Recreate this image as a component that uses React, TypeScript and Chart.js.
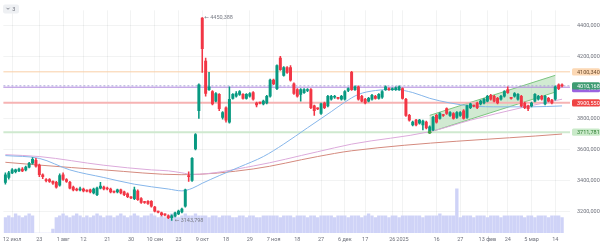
import React, { useEffect, useRef } from 'react';
import { Chart, registerables } from 'chart.js';

Chart.register(...registerables);

// ---- candle data (index = trading day) ----
const opens = [
  3389, 3420, 3450, 3457, 3463, 3475, 3469, 3487, 3512, 3530,
  3500, 3438, 3403, 3407, 3395, 3389, 3370, 3438, 3407, 3389,
  3358, 3341, 3340, 3346, 3334, 3340, 3321, 3309, 3352, 3358,
  3352, 3346, 3328, 3327, 3340, 3327, 3315, 3291, 3284, 3333,
  3284, 3261, 3266, 3266, 3229, 3199, 3192, 3181, 3173, 3161,
  3173, 3186, 3198, 3235, 3432, 3401, 3604, 3850, 4447, 4170,
  3986, 3973, 3912, 3955, 3807, 3869, 3777, 3930, 3943, 3955,
  3955, 3930, 3943, 3967, 3900, 3901, 3894, 3900, 3943, 4047,
  3992, 4189, 4078, 4127, 4127, 4023, 3986, 3955, 3967, 3980,
  3986, 3881, 3864, 3832, 3900, 3881, 3924, 3937, 3931, 3924,
  3924, 3980, 4097, 3986, 4004, 3943, 3924, 3912, 3924, 3943,
  3930, 3937, 3986, 3992, 3986, 3986, 3986, 3992, 3924, 3820,
  3758, 3789, 3770, 3758, 3777, 3721, 3727, 3820, 3801, 3821,
  3863, 3820, 3832, 3807, 3820, 3850, 3807, 3869, 3882, 3900,
  3894, 3900, 3912, 3949, 3943, 3930, 3924, 3943, 3986, 3931,
  3943, 3924, 3943, 3900, 3881, 3881, 3912, 3924, 3943, 3894,
  3930, 3918, 3924, 4017, 4017,
];
const highs = [
  3450, 3460, 3478, 3475, 3481, 3484, 3493, 3518, 3549, 3543,
  3506, 3444, 3413, 3413, 3398, 3395, 3444, 3450, 3413, 3395,
  3364, 3352, 3358, 3352, 3340, 3346, 3352, 3358, 3389, 3364,
  3358, 3352, 3333, 3346, 3346, 3333, 3321, 3297, 3358, 3340,
  3290, 3266, 3272, 3272, 3235, 3204, 3198, 3186, 3180, 3180,
  3198, 3210, 3223, 3346, 3457, 3549, 3703, 4023, 4450.388, 4189,
  4097, 3980, 3967, 3961, 3844, 3875, 4004, 3961, 3973, 3980,
  3961, 3961, 3967, 3973, 3906, 3906, 3918, 3949, 4053, 4053,
  4146, 4201, 4134, 4134, 4140, 4029, 3992, 3992, 3992, 3992,
  3992, 3887, 3869, 3900, 3906, 3949, 3949, 3949, 3937, 3949,
  3980, 3998, 4103, 4010, 4010, 3949, 3930, 3937, 3955, 3949,
  3961, 3980, 4010, 3998, 3998, 4004, 4010, 3998, 3930, 3826,
  3783, 3795, 3795, 3789, 3783, 3752, 3814, 3826, 3838, 3826,
  3869, 3844, 3838, 3844, 3844, 3857, 3887, 3900, 3887, 3906,
  3918, 3930, 3949, 3955, 3949, 3937, 3949, 3980, 4004, 3937,
  3967, 3961, 3949, 3906, 3887, 3906, 3961, 3949, 3949, 3949,
  3937, 3924, 4010, 4023, 4023,
];
const lows = [
  3377, 3410, 3444, 3450, 3457, 3457, 3463, 3481, 3506, 3487,
  3426, 3413, 3392, 3389, 3375, 3352, 3364, 3401, 3389, 3346,
  3333, 3333, 3333, 3327, 3327, 3321, 3315, 3303, 3346, 3340,
  3340, 3321, 3321, 3321, 3315, 3303, 3290, 3284, 3278, 3272,
  3253, 3253, 3247, 3229, 3198, 3192, 3173, 3173, 3155, 3143.798,
  3167, 3180, 3192, 3229, 3395, 3395, 3598, 3801, 4097, 3943,
  3980, 3887, 3906, 3850, 3795, 3777, 3770, 3924, 3937, 3949,
  3924, 3924, 3937, 3918, 3875, 3894, 3887, 3894, 3937, 4017,
  3986, 4109, 4072, 4090, 4041, 3955, 3937, 3912, 3961, 3973,
  3863, 3820, 3857, 3826, 3863, 3875, 3918, 3930, 3924, 3918,
  3918, 3973, 3980, 3980, 3918, 3906, 3894, 3906, 3918, 3924,
  3924, 3930, 3980, 3980, 3980, 3980, 3980, 3924, 3814, 3783,
  3752, 3752, 3764, 3727, 3733, 3711.781, 3721, 3770, 3795, 3814,
  3826, 3814, 3795, 3801, 3814, 3795, 3801, 3863, 3875, 3863,
  3887, 3894, 3906, 3918, 3906, 3894, 3918, 3937, 3961, 3924,
  3937, 3918, 3875, 3863, 3850, 3875, 3906, 3918, 3918, 3887,
  3906, 3894, 3918, 3986, 4004,
];
const closes = [
  3438, 3450, 3469, 3469, 3475, 3463, 3487, 3512, 3537, 3493,
  3438, 3426, 3400, 3395, 3383, 3358, 3432, 3407, 3395, 3352,
  3340, 3339, 3346, 3333, 3332, 3327, 3346, 3352, 3364, 3346,
  3346, 3327, 3326, 3340, 3321, 3309, 3297, 3289, 3340, 3278,
  3260, 3259, 3253, 3235, 3204, 3197, 3180, 3179, 3161, 3173,
  3192, 3204, 3216, 3340, 3426, 3543, 3697, 4017, 4250, 3961,
  4004, 3894, 3961, 3863, 3838, 3789, 3924, 3955, 3961, 3973,
  3930, 3955, 3961, 3924, 3887, 3899, 3912, 3943, 4047, 4023,
  4140, 4115, 4127, 4097, 4047, 3961, 3943, 3986, 3986, 3986,
  3869, 3850, 3862, 3894, 3869, 3943, 3943, 3943, 3929, 3943,
  3973, 3992, 3986, 4004, 3924, 3912, 3900, 3930, 3949, 3930,
  3955, 3973, 4004, 3986, 3992, 3998, 4004, 3930, 3820, 3789,
  3777, 3758, 3789, 3783, 3740, 3746, 3807, 3777, 3832, 3819,
  3832, 3838, 3801, 3838, 3838, 3801, 3881, 3894, 3880, 3869,
  3912, 3924, 3943, 3924, 3912, 3900, 3943, 3973, 3967, 3929,
  3961, 3955, 3881, 3869, 3863, 3900, 3955, 3943, 3924, 3943,
  3912, 3900, 4004, 3992, 4010.168,
];
const volumes = [
  8, 9, 8, 10, 9, 8, 9, 10, 9, 0,
  0, 0, 0, 0, 2, 8, 9, 10, 9, 8,
  9, 10, 9, 8, 9, 8, 9, 10, 9, 8,
  9, 9, 8, 9, 10, 9, 8, 9, 10, 9,
  8, 9, 9, 10, 9, 8, 9, 8, 9, 10,
  9, 8, 9, 10, 9, 9, 10, 9, 9, 9,
  8, 9, 9, 8, 9, 9, 9, 8, 8, 9,
  9, 8, 9, 9, 8, 8, 9, 9, 9, 9,
  9, 8, 9, 9, 9, 8, 9, 9, 9, 8,
  9, 9, 8, 9, 9, 9, 9, 8, 9, 9,
  9, 8, 9, 9, 9, 8, 9, 10, 9, 8,
  9, 9, 9, 8, 9, 9, 8, 9, 9, 9,
  9, 9, 9, 8, 9, 9, 9, 9, 10, 9,
  9, 9, 9, 23, 8, 9, 9, 9, 8, 9,
  9, 9, 8, 9, 9, 9, 8, 9, 9, 9,
  9, 9, 9, 8, 9, 9, 8, 9, 9, 9,
  8, 9, 9, 9, 8,
];

const maFastIdx = [0, 10, 19, 29, 38, 48, 52, 55, 58, 63, 69, 76, 82, 89, 96, 100, 104, 109, 115, 120, 125, 131, 137, 146, 155, 164];
const maFastVal = [3561, 3543, 3469, 3420, 3377, 3346, 3334, 3350, 3383, 3432, 3488, 3555, 3635, 3740, 3844, 3905, 3955, 3980, 3986, 3967, 3930, 3900, 3881, 3875, 3875, 3881];
const maMidIdx = [0, 10, 29, 43, 48, 52, 55, 73, 92, 102, 125, 137, 152, 164];
const maMidVal = [3567, 3555, 3499, 3469, 3463, 3450, 3440, 3494, 3586, 3635, 3715, 3789, 3869, 3924];
const maSlowIdx = [0, 10, 29, 52, 73, 92, 102, 164];
const maSlowVal = [3518, 3500, 3469, 3438, 3475, 3555, 3592, 3700];

// ---- axes ----
const tickIdx = [2, 10, 17, 23, 30, 37, 44, 51, 58, 65, 72, 79, 86, 93, 100, 106, 114, 117, 127, 134, 142, 148, 155, 162];
const tickLabels = ['12 июл', '23', '1 авг', '12', '21', '30', '10 сен', '23', '9 окт', '18', '29', '7 ноя', '18', '27', '6 дек', '17', '26', '2025', '16', '27', '13 фев', '24', '5 мар', '14'];
const priceTicks = [3200, 3400, 3600, 3800, 4000, 4200, 4400];

// ---- drawings ----
const levelResistance = 4100.34;
const levelPurple = 4001.5;
const lastPrice = 4010.168;
const levelSupport = 3900.55;
const levelLow = 3711.781;
const channelIdx = [125, 162];
const channelLow = [3711.781, 3970];
const channelHigh = [3820, 4078];
const highIdx = 58;
const highVal = 4450.388;
const lowIdx = 49;
const lowVal = 3143.798;

const UP = '#089981';
const DOWN = '#f23645';
const FONT = 'Roboto, "DejaVu Sans", sans-serif';

function fmt(v: number): string {
  return v.toFixed(3).replace('.', ',');
}

export default function App() {
  const ref = useRef<HTMLCanvasElement>(null);

  useEffect(() => {
    const canvas = ref.current;
    if (!canvas) return;
    const idx = closes.map((_, i) => i);
    const colors = idx.map((i) => (closes[i] >= opens[i] ? UP : DOWN));
    const bodies = idx.map((i) => ({ x: i, y: [opens[i], closes[i]] }));
    const wicks = idx.map((i) => ({ x: i, y: [lows[i], highs[i]] }));
    const vols = idx.map((i) => ({ x: i, y: volumes[i] }));
    const pts = (xs: number[], ys: number[]) => xs.map((x, k) => ({ x, y: ys[k] }));

    const overlay = {
      id: 'overlay',
      beforeDatasetsDraw(chart: any) {
        const ctx = chart.ctx;
        const xs = chart.scales.x;
        const ys = chart.scales.y;
        const a = chart.chartArea;
        ctx.save();
        // channel
        const x0 = xs.getPixelForValue(channelIdx[0]);
        const x1 = xs.getPixelForValue(channelIdx[1]);
        ctx.beginPath();
        ctx.moveTo(x0, ys.getPixelForValue(channelLow[0]));
        ctx.lineTo(x1, ys.getPixelForValue(channelLow[1]));
        ctx.lineTo(x1, ys.getPixelForValue(channelHigh[1]));
        ctx.lineTo(x0, ys.getPixelForValue(channelHigh[0]));
        ctx.closePath();
        ctx.fillStyle = 'rgba(102,187,106,0.3)';
        ctx.fill();
        ctx.strokeStyle = '#7cc47f';
        ctx.lineWidth = 1;
        ctx.beginPath();
        ctx.moveTo(x0, ys.getPixelForValue(channelLow[0]));
        ctx.lineTo(x1, ys.getPixelForValue(channelLow[1]));
        ctx.moveTo(x0, ys.getPixelForValue(channelHigh[0]));
        ctx.lineTo(x1, ys.getPixelForValue(channelHigh[1]));
        ctx.stroke();
        // level lines
        const hline = (v: number, color: string, w: number, dash: number[]) => {
          const y = ys.getPixelForValue(v);
          ctx.beginPath();
          ctx.setLineDash(dash);
          ctx.strokeStyle = color;
          ctx.lineWidth = w;
          ctx.moveTo(a.left, y);
          ctx.lineTo(a.right, y);
          ctx.stroke();
          ctx.setLineDash([]);
        };
        hline(levelResistance, '#f9cfa6', 1, []);
        hline(levelLow, '#cfe9cf', 2, []);
        hline(levelSupport, '#f6b3b3', 2, []);
        hline(lastPrice, '#a9a6d6', 1, [2, 2]);
        hline(levelPurple, '#b48be3', 1, []);
        ctx.restore();
      },
      afterDraw(chart: any) {
        const ctx = chart.ctx;
        const xs = chart.scales.x;
        const ys = chart.scales.y;
        const a = chart.chartArea;
        ctx.save();
        // anchor dot of channel
        ctx.fillStyle = '#43a047';
        ctx.beginPath();
        ctx.arc(xs.getPixelForValue(channelIdx[0]), ys.getPixelForValue(channelLow[0]), 1.8, 0, Math.PI * 2);
        ctx.fill();
        // price labels on the right
        ctx.font = '5.5px ' + FONT;
        ctx.textBaseline = 'middle';
        ctx.textAlign = 'left';
        const box = (v: number, bg: string, fg: string, dy = 0) => {
          const y = ys.getPixelForValue(v) + dy;
          ctx.fillStyle = bg;
          ctx.beginPath();
          ctx.roundRect(a.right + 2, y - 3.6, 600 - a.right - 2, 7.2, 1.5);
          ctx.fill();
          ctx.fillStyle = fg;
          ctx.fillText(fmt(v), a.right + 7, y + 0.3);
        };
        box(levelResistance, '#fcd8b4', '#6d4c2f');
        box(levelSupport, '#ef4444', '#ffffff');
        box(levelLow, '#c9eac9', '#2e7d32');
        box(levelPurple, '#9a63e0', '#ffffff', 1.5);
        box(lastPrice, '#3e9c72', '#ffffff');
        // high / low marks
        ctx.fillStyle = '#7a7d87';
        ctx.fillText('\u2190 ' + fmt(highVal), xs.getPixelForValue(highIdx) + 2, ys.getPixelForValue(highVal) + 0.5);
        ctx.fillText('\u2190 ' + fmt(lowVal), xs.getPixelForValue(lowIdx) + 3, ys.getPixelForValue(lowVal) + 0.5);
        // collapse button
        ctx.fillStyle = '#eef0f3';
        ctx.beginPath();
        ctx.roundRect(3, 4.5, 16, 9, 2);
        ctx.fill();
        ctx.strokeStyle = '#6a6d78';
        ctx.lineWidth = 0.8;
        ctx.beginPath();
        ctx.moveTo(6.5, 7.8);
        ctx.lineTo(8, 9.3);
        ctx.lineTo(9.5, 7.8);
        ctx.stroke();
        ctx.fillStyle = '#6a6d78';
        ctx.fillText('3', 12.2, 9.2);
        ctx.restore();
      },
    };

    const chart = new Chart(canvas, {
      type: 'bar',
      data: {
        datasets: [
          { type: 'bar', data: vols, yAxisID: 'yv', backgroundColor: '#cfd3f7', barThickness: 2.7, grouped: false, order: 10 } as any,
          { type: 'line', data: pts(maSlowIdx, maSlowVal), borderColor: '#d48a7e', borderWidth: 1, pointRadius: 0, cubicInterpolationMode: 'monotone', order: 6 } as any,
          { type: 'line', data: pts(maMidIdx, maMidVal), borderColor: '#dcaadb', borderWidth: 1, pointRadius: 0, cubicInterpolationMode: 'monotone', order: 5 } as any,
          { type: 'line', data: pts(maFastIdx, maFastVal), borderColor: '#86b6ea', borderWidth: 1, pointRadius: 0, cubicInterpolationMode: 'monotone', order: 4 } as any,
          { type: 'bar', data: wicks, backgroundColor: colors, barThickness: 0.9, grouped: false, order: 3 } as any,
          { type: 'bar', data: bodies, backgroundColor: colors, barThickness: 2.3, grouped: false, minBarLength: 1, order: 2 } as any,
        ],
      },
      options: {
        responsive: false,
        maintainAspectRatio: false,
        animation: false,
        events: [],
        layout: { padding: 0 },
        plugins: { legend: { display: false }, tooltip: { enabled: false } },
        scales: {
          x: {
            type: 'linear',
            min: -0.586,
            max: 166.34,
            offset: false,
            grid: { color: 'rgba(42,46,57,0.06)', drawTicks: false, offset: false },
            border: { display: false },
            ticks: {
              autoSkip: false,
              maxRotation: 0,
              minRotation: 0,
              padding: 3,
              color: '#6f727c',
              font: { size: 5.5, family: FONT },
              callback: (_v: any, i: number) => tickLabels[i],
            },
            afterBuildTicks: (s: any) => {
              s.ticks = tickIdx.map((v) => ({ value: v }));
            },
            afterFit: (s: any) => {
              s.height = 12;
            },
          },
          y: {
            type: 'linear',
            position: 'right',
            min: 3062.7,
            max: 4496.6,
            grid: { color: 'rgba(42,46,57,0.06)', drawTicks: false },
            border: { display: false },
            ticks: {
              padding: 7,
              color: '#6f727c',
              font: { size: 5.5, family: FONT },
              callback: (v: any) => fmt(Number(v)),
            },
            afterBuildTicks: (s: any) => {
              s.ticks = priceTicks.map((v) => ({ value: v }));
            },
            afterFit: (s: any) => {
              s.width = 30;
            },
          },
          yv: { type: 'linear', display: false, min: 0, max: 116 },
        },
      } as any,
      plugins: [overlay],
    });
    return () => chart.destroy();
  }, []);

  return (
    <div style={{ position: 'fixed', left: 0, top: 0, width: 600, height: 245, background: '#ffffff' }}>
      <canvas ref={ref} width={600} height={245} style={{ display: 'block', width: 600, height: 245 }} />
    </div>
  );
}
